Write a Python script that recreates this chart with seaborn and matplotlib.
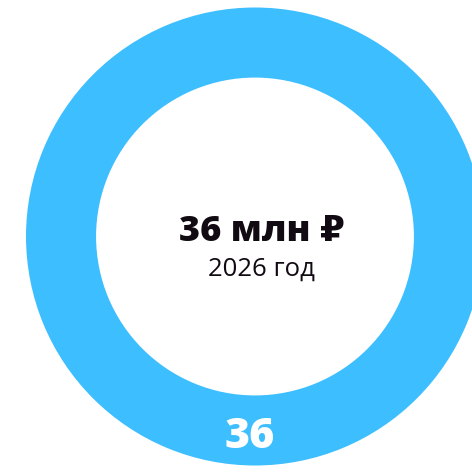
import matplotlib
matplotlib.use("Agg")
import matplotlib.pyplot as plt
import seaborn as sns

# данные
categories = ["2026"]
values = [36]
unit = "млн ₽"
ring_color = "#3dbeff"

sns.set_theme(style="white")
plt.rcParams["font.family"] = ["Open Sans", "DejaVu Sans"]

fig = plt.figure(figsize=(4.72, 4.72), dpi=100)
fig.patch.set_facecolor("white")

# оси подогнаны так, чтобы кольцо частично уходило за правый край
W = 472.0
cx, cy, r = 255.0, 236.5, 229.0
ax = fig.add_axes([(cx - r) / W, (W - cy - r) / W, 2 * r / W, 2 * r / W])

wedges, _ = ax.pie(values, colors=[ring_color], startangle=90, radius=1,
                   wedgeprops=dict(width=0.306, edgecolor="none"))
ax.set_xlim(-1, 1)
ax.set_ylim(-1, 1)
ax.set_aspect("equal")
ax.axis("off")

total = sum(values)
ax.text(0.029, -0.018, f"{total} {unit}", ha="center", va="baseline",
        fontsize=26, fontweight=800, color="#120a12")
ax.text(0.029, -0.172, f"{categories[0]} год", ha="center", va="baseline",
        fontsize=18.5, color="#120a12")
ax.text(-0.022, -0.925, str(values[0]), ha="center", va="baseline",
        fontsize=31, fontweight=800, color="white")

fig.savefig("out.png", dpi=100)
